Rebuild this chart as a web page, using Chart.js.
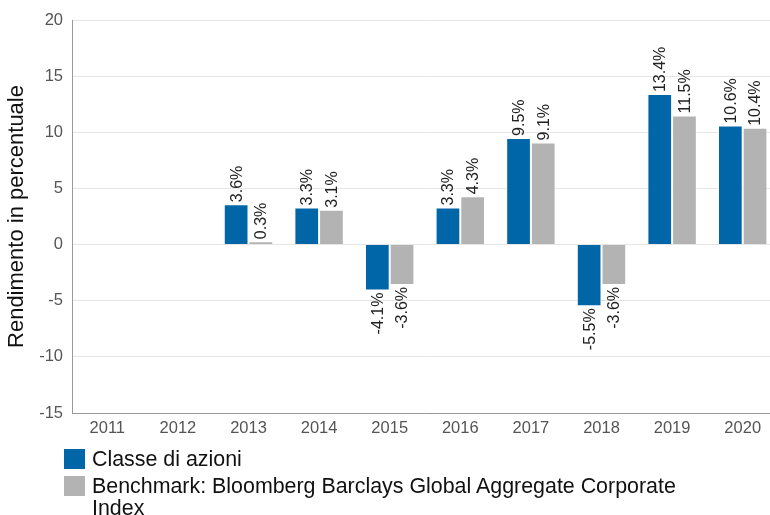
<!DOCTYPE html>
<html>
<head>
<meta charset="utf-8">
<script src="https://cdn.jsdelivr.net/npm/chart.js@4/dist/chart.umd.min.js"></script>
<style>
    html, body { margin: 0; padding: 0; background: #fff; overflow: hidden; }
    #wrap { position: relative; width: 778px; height: 515px; }
    #legend { position: absolute; left: 64px; top: 448px; font-family: "Liberation Sans", Arial, sans-serif; font-size: 21.4px; color: #111; }
    .item { display: flex; align-items: flex-start; margin-bottom: 5px; }
    .box { width: 21px; height: 20px; flex: none; margin-top: 1px; margin-right: 7px; }
    .txt { line-height: 22px; width: 620px; }
</style>
</head>
<body>
<div id="wrap">
    <canvas id="chart" width="778" height="515"></canvas>
    <div id="legend"></div>
</div>
<script>
// Anni e rendimenti (%)
const years = ['2011', '2012', '2013', '2014', '2015', '2016', '2017', '2018', '2019', '2020'];
const shareClass = [null, null, 3.6, 3.3, -4.1, 3.3, 9.5, -5.5, 13.4, 10.6];
const benchmark = [null, null, 0.3, 3.1, -3.6, 4.3, 9.1, -3.6, 11.5, 10.4];
const seriesNames = ['Classe di azioni', 'Benchmark: Bloomberg Barclays Global Aggregate Corporate Index'];

const FONT = '"Liberation Sans", Arial, sans-serif';

// Etichette ruotate sopra/sotto le barre
const barLabels = {
    id: 'barLabels',
    afterDatasetsDraw(chart) {
        const ctx = chart.ctx;
        ctx.save();
        ctx.font = '16px ' + FONT;
        ctx.fillStyle = '#222';
        ctx.textBaseline = 'middle';
        chart.data.datasets.forEach((ds, di) => {
            chart.getDatasetMeta(di).data.forEach((bar, i) => {
                const v = ds.data[i];
                if (v === null) return;
                const text = v.toFixed(1) + '%';
                ctx.save();
                if (v >= 0) {
                    ctx.translate(bar.x + 1, bar.y - 2);
                    ctx.rotate(-Math.PI / 2);
                    ctx.textAlign = 'left';
                } else {
                    ctx.translate(bar.x + 1, bar.y + 2);
                    ctx.rotate(-Math.PI / 2);
                    ctx.textAlign = 'right';
                }
                ctx.fillText(text, 0, 0);
                ctx.restore();
            });
        });
        ctx.restore();
    }
};

const chart = new Chart(document.getElementById('chart'), {
    type: 'bar',
    data: {
        labels: years,
        datasets: [
            {
                label: seriesNames[0],
                data: shareClass,
                backgroundColor: '#0066a8',
                borderColor: '#ffffff',
                borderWidth: 1,
                categoryPercentage: 0.7,
                barPercentage: 1.0
            },
            {
                label: seriesNames[1],
                data: benchmark,
                backgroundColor: '#b3b3b3',
                borderColor: '#ffffff',
                borderWidth: 1,
                categoryPercentage: 0.7,
                barPercentage: 1.0
            }
        ]
    },
    options: {
        responsive: false,
        animation: false,
        layout: { padding: { top: 20, right: 0, bottom: 72, left: 0 } },
        plugins: {
            legend: { display: false },
            tooltip: { enabled: false }
        },
        scales: {
            x: {
                grid: { display: false, drawTicks: false },
                border: { color: '#999', width: 1 },
                ticks: { color: '#555', font: { family: FONT, size: 16.5 }, padding: 6, maxRotation: 0 },
                afterFit(scale) { scale.height = 30; }
            },
            y: {
                min: -15,
                max: 20,
                ticks: { stepSize: 5, color: '#555', font: { family: FONT, size: 16.5 }, padding: 9 },
                grid: { color: '#e6e6e6', drawTicks: false },
                border: { color: '#999', width: 1 },
                title: {
                    display: true,
                    text: 'Rendimento in percentuale',
                    color: '#111',
                    font: { family: FONT, size: 22 },
                    padding: { top: 4, bottom: 0 }
                },
                afterFit(scale) { scale.width = 72; }
            }
        }
    },
    plugins: [barLabels]
});

// Legenda HTML costruita dai dataset
const legend = document.getElementById('legend');
chart.data.datasets.forEach(ds => {
    const item = document.createElement('div');
    item.className = 'item';
    const box = document.createElement('div');
    box.className = 'box';
    box.style.background = ds.backgroundColor;
    const txt = document.createElement('div');
    txt.className = 'txt';
    txt.textContent = ds.label;
    item.appendChild(box);
    item.appendChild(txt);
    legend.appendChild(item);
});
</script>
</body>
</html>
